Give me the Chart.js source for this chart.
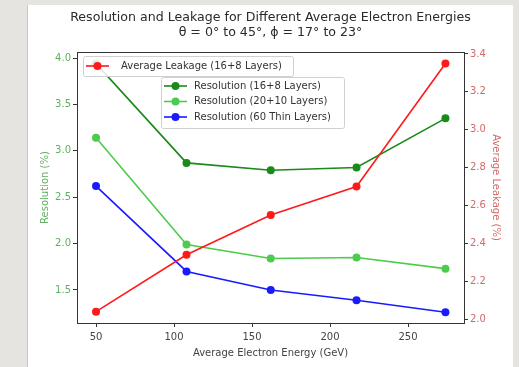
<!DOCTYPE html>
<html>
<head>
<meta charset="utf-8">
<script src="https://cdn.jsdelivr.net/npm/chart.js@4"></script>
<style>
html, body { margin: 0; padding: 0; width: 519px; height: 367px; overflow: hidden; background: #e6e4e0; }
#panel { position: absolute; left: 27px; top: 5px; width: 486px; height: 362px; background: #fff; border-left: 1px solid #b4cbe6; box-sizing: border-box; }
#wrap { position: absolute; left: 0; top: 0; width: 519px; height: 367px; }
</style>
</head>
<body>
<div id="panel"></div>
<div id="wrap"><canvas id="chart" width="519" height="367"></canvas></div>
<script>
var energies = [50, 108, 162, 217, 274];
var leakage = [2.04, 2.34, 2.55, 2.70, 3.35];
var res16x8 = [3.94, 2.87, 2.79, 2.82, 3.35];
var res20x10 = [3.14, 1.99, 1.84, 1.85, 1.73];
var res60thin = [2.62, 1.70, 1.50, 1.39, 1.26];
var xTicks = [50, 100, 150, 200, 250];
var resTicks = [1.5, 2.0, 2.5, 3.0, 3.5, 4.0];
var leakTicks = [2.0, 2.2, 2.4, 2.6, 2.8, 3.0, 3.2, 3.4];

var FONT = 'DejaVu Sans';

function pairs(values) {
    return energies.map(function(e, i) { return { x: e, y: values[i] }; });
}

function series(label, values, color, axis) {
    return {
        label: label,
        data: pairs(values),
        yAxisID: axis,
        borderColor: color,
        backgroundColor: color,
        pointBackgroundColor: color,
        pointBorderColor: color,
        borderWidth: 1.6,
        pointRadius: 4,
        pointBorderWidth: 0,
        tension: 0
    };
}

function fixTicks(list) {
    return function(scale) {
        scale.ticks = list.map(function(v) { return { value: v }; });
    };
}

// legends are drawn by hand: matplotlib had two separate boxes here
var legendPlugin = {
    id: 'twoLegends',
    afterDraw: function(chart) {
        var ctx = chart.ctx;
        var ds = chart.data.datasets;
        function box(x, y, w, h) {
            ctx.save();
            ctx.fillStyle = 'rgba(255,255,255,0.85)';
            ctx.strokeStyle = '#d0d0d0';
            ctx.lineWidth = 1;
            ctx.beginPath();
            ctx.roundRect(x + 0.5, y + 0.5, w, h, 2);
            ctx.fill();
            ctx.stroke();
            ctx.restore();
        }
        function entry(d, x1, x2, y, tx) {
            ctx.save();
            ctx.strokeStyle = d.borderColor;
            ctx.lineWidth = 1.6;
            ctx.beginPath();
            ctx.moveTo(x1, y);
            ctx.lineTo(x2, y);
            ctx.stroke();
            ctx.fillStyle = d.borderColor;
            ctx.beginPath();
            ctx.arc((x1 + x2) / 2, y, 4, 0, Math.PI * 2);
            ctx.fill();
            ctx.fillStyle = '#333';
            ctx.font = '10px "' + FONT + '"';
            ctx.textBaseline = 'middle';
            ctx.fillText(d.label, tx, y);
            ctx.restore();
        }
        box(83, 56, 210, 20);
        entry(ds[0], 86, 109, 66, 121);
        box(161, 77, 183, 51);
        for (var i = 1; i < ds.length; i++) {
            entry(ds[i], 164, 187, 86 + (i - 1) * 15.5, 194);
        }
    }
};

var framePlugin = {
    id: 'frame',
    beforeDatasetsDraw: function(chart) {
        var a = chart.chartArea;
        var ctx = chart.ctx;
        ctx.save();
        ctx.strokeStyle = '#333';
        ctx.lineWidth = 1;
        ctx.strokeRect(Math.round(a.left) + 0.5, Math.round(a.top) + 0.5, Math.round(a.right - a.left), Math.round(a.bottom - a.top));
        ctx.restore();
    }
};

var ctx = document.getElementById('chart').getContext('2d');
new Chart(ctx, {
    type: 'line',
    data: {
        datasets: [
            series('Average Leakage (16+8 Layers)', leakage, '#ff1a1a', 'y1'),
            series('Resolution (16+8 Layers)', res16x8, '#1a8a1a', 'y'),
            series('Resolution (20+10 Layers)', res20x10, '#4ccc4c', 'y'),
            series('Resolution (60 Thin Layers)', res60thin, '#1a1aff', 'y')
        ]
    },
    options: {
        responsive: false,
        animation: false,
        devicePixelRatio: 1,
        layout: { padding: { left: 35, right: 13, top: 0, bottom: 4 } },
        plugins: {
            legend: { display: false },
            tooltip: { enabled: false },
            title: {
                display: true,
                text: ['Resolution and Leakage for Different Average Electron Energies', 'θ = 0° to 45°, ϕ = 17° to 23°'],
                color: '#2a2a2a',
                font: { family: FONT, size: 12.6, weight: 'normal', lineHeight: 1.2 },
                padding: { top: 10, bottom: 11.8 }
            }
        },
        scales: {
            x: {
                type: 'linear',
                min: 37.8,
                max: 285.9,
                afterBuildTicks: fixTicks(xTicks),
                afterFit: function(s) { s.height = 40; },
                grid: { drawOnChartArea: false, tickLength: 4, color: '#333', tickColor: '#333' },
                border: { color: '#333' },
                ticks: { color: '#444', padding: 4, font: { family: FONT, size: 10 } },
                title: { display: true, text: 'Average Electron Energy (GeV)', color: '#444', font: { family: FONT, size: 10 }, padding: { top: 2, bottom: 4 } }
            },
            y: {
                position: 'left',
                min: 1.144,
                max: 4.065,
                afterBuildTicks: fixTicks(resTicks),
                afterFit: function(s) { s.width = 42; },
                grid: { drawOnChartArea: false, tickLength: 4, color: '#333', tickColor: '#333' },
                border: { color: '#333' },
                ticks: { color: '#62b062', padding: 2, font: { family: FONT, size: 10 }, callback: function(v) { return Number(v).toFixed(1); } },
                title: { display: true, text: 'Resolution (%)', color: '#62b062', font: { family: FONT, size: 10 }, padding: { top: 4, bottom: 4 } }
            },
            y1: {
                position: 'right',
                min: 1.98,
                max: 3.41,
                afterBuildTicks: fixTicks(leakTicks),
                afterFit: function(s) { s.width = 42; },
                grid: { drawOnChartArea: false, tickLength: 4, color: '#333', tickColor: '#333' },
                border: { color: '#333' },
                ticks: { color: '#d36a6a', padding: 2, font: { family: FONT, size: 10 }, callback: function(v) { return Number(v).toFixed(1); } },
                title: { display: true, text: 'Average Leakage (%)', color: '#d36a6a', font: { family: FONT, size: 10 }, padding: { top: 4, bottom: 4 } }
            }
        }
    },
    plugins: [legendPlugin, framePlugin]
});
</script>
</body>
</html>
